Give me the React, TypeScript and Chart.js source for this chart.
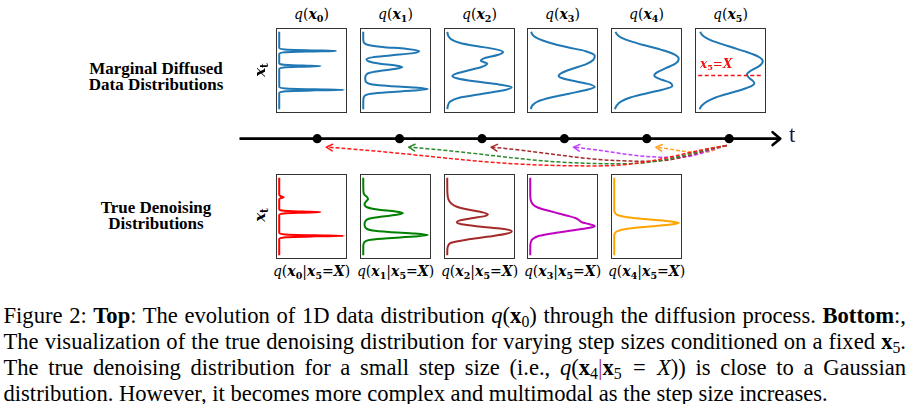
import React, { useEffect, useRef } from "react";
import { Chart, registerables } from "chart.js";

Chart.register(...registerables);

type Pt = [number, number]; // [position along x_t (0 = bottom, 1 = top), density]

// ---------------- data ----------------
const stepIndices = ["0", "1", "2", "3", "4", "5"];
const denoiseIndices = ["0", "1", "2", "3", "4"];

// marginal diffused distributions q(x_t)
const margX0: Pt[] = [
  [0, 0], [0.21, 0], [0.232, 0.1], [0.243, 0.55], [0.25, 1.0], [0.257, 0.55], [0.268, 0.1], [0.29, 0],
  [0.52, 0], [0.54, 0.07], [0.55, 0.36], [0.557, 0.64], [0.564, 0.36], [0.574, 0.07], [0.595, 0],
  [0.715, 0], [0.735, 0.09], [0.746, 0.5], [0.753, 0.88], [0.76, 0.5], [0.771, 0.09], [0.79, 0], [1, 0],
];
const margX1: Pt[] = [
  [0, 0], [0.12, 0.001], [0.17, 0.02], [0.2, 0.12], [0.22, 0.38], [0.24, 0.78], [0.26, 1.0], [0.28, 0.8],
  [0.3, 0.4], [0.32, 0.14], [0.35, 0.045], [0.4, 0.03], [0.434, 0.04], [0.47, 0.1], [0.5, 0.3],
  [0.525, 0.53], [0.544, 0.605], [0.565, 0.5], [0.59, 0.24], [0.62, 0.08], [0.644, 0.05], [0.67, 0.14],
  [0.695, 0.42], [0.725, 0.78], [0.753, 0.866], [0.78, 0.66], [0.805, 0.3], [0.83, 0.08], [0.86, 0.012],
  [0.9, 0.001], [1, 0],
];
const margX2: Pt[] = [
  [0, 0.002], [0.05, 0.012], [0.1, 0.05], [0.15, 0.2], [0.2, 0.55], [0.24, 0.86], [0.282, 1.0], [0.32, 0.8],
  [0.36, 0.42], [0.4, 0.15], [0.43, 0.08], [0.46, 0.14], [0.5, 0.32], [0.545, 0.53], [0.59, 0.62],
  [0.625, 0.52], [0.66, 0.58], [0.7, 0.78], [0.74, 0.866], [0.78, 0.72], [0.82, 0.42], [0.86, 0.19],
  [0.9, 0.07], [0.95, 0.015], [1, 0.002],
];
const margX3: Pt[] = [
  [0, 0.008], [0.05, 0.035], [0.1, 0.12], [0.15, 0.32], [0.2, 0.6], [0.25, 0.88], [0.29, 1.0], [0.33, 0.88],
  [0.37, 0.64], [0.4, 0.5], [0.43, 0.44], [0.47, 0.49], [0.52, 0.64], [0.58, 0.86], [0.64, 0.98],
  [0.69, 1.0], [0.75, 0.86], [0.8, 0.58], [0.86, 0.3], [0.91, 0.13], [0.95, 0.05], [1, 0.012],
];
const margX4: Pt[] = [
  [0, 0.01], [0.05, 0.04], [0.1, 0.11], [0.15, 0.25], [0.2, 0.48], [0.25, 0.74], [0.3, 0.9], [0.34, 0.87],
  [0.38, 0.74], [0.41, 0.65], [0.44, 0.62], [0.48, 0.67], [0.53, 0.8], [0.59, 0.95], [0.65, 1.0],
  [0.71, 0.93], [0.77, 0.72], [0.83, 0.45], [0.88, 0.25], [0.93, 0.1], [0.97, 0.04], [1, 0.02],
];
const margX5: Pt[] = [
  [0, 0.02], [0.05, 0.06], [0.1, 0.14], [0.15, 0.27], [0.2, 0.46], [0.25, 0.67], [0.3, 0.83], [0.335, 0.87],
  [0.37, 0.84], [0.41, 0.78], [0.45, 0.755], [0.5, 0.82], [0.56, 0.95], [0.62, 1.0], [0.68, 0.93],
  [0.74, 0.75], [0.8, 0.52], [0.86, 0.3], [0.91, 0.15], [0.96, 0.06], [1, 0.03],
];

// the fixed observed value x5 = X (position along x_t)
const conditionedX = 0.435;

// true denoising distributions q(x_t | x5 = X)
const denX0: Pt[] = [
  [0, 0], [0.21, 0], [0.232, 0.1], [0.243, 0.55], [0.25, 1.0], [0.257, 0.55], [0.268, 0.1], [0.29, 0],
  [0.52, 0], [0.54, 0.07], [0.55, 0.36], [0.557, 0.64], [0.564, 0.36], [0.574, 0.07], [0.595, 0],
  [0.72, 0], [0.738, 0.025], [0.75, 0.07], [0.762, 0.025], [0.78, 0], [1, 0],
];
const denX1: Pt[] = [
  [0, 0], [0.12, 0.001], [0.17, 0.02], [0.2, 0.12], [0.22, 0.38], [0.24, 0.78], [0.26, 1.0], [0.28, 0.8],
  [0.3, 0.4], [0.32, 0.14], [0.35, 0.04], [0.4, 0.02], [0.434, 0.03], [0.47, 0.09], [0.5, 0.3],
  [0.525, 0.54], [0.544, 0.615], [0.565, 0.5], [0.59, 0.22], [0.62, 0.06], [0.66, 0.02], [0.7, 0.05],
  [0.725, 0.075], [0.75, 0.06], [0.78, 0.02], [0.82, 0.003], [1, 0],
];
const denX2: Pt[] = [
  [0, 0], [0.08, 0.002], [0.12, 0.015], [0.16, 0.06], [0.2, 0.3], [0.24, 0.65], [0.28, 0.93], [0.31, 1.0],
  [0.34, 0.85], [0.37, 0.5], [0.4, 0.22], [0.425, 0.15], [0.45, 0.2], [0.48, 0.4], [0.505, 0.58],
  [0.528, 0.63], [0.555, 0.54], [0.59, 0.32], [0.63, 0.14], [0.67, 0.06], [0.72, 0.02], [0.8, 0.003], [1, 0],
];
const denX3: Pt[] = [
  [0, 0], [0.12, 0.001], [0.17, 0.01], [0.21, 0.04], [0.25, 0.14], [0.29, 0.4], [0.33, 0.72], [0.355, 0.92],
  [0.375, 1.0], [0.4, 0.92], [0.425, 0.8], [0.45, 0.76], [0.48, 0.7], [0.51, 0.58], [0.54, 0.44],
  [0.57, 0.3], [0.6, 0.17], [0.63, 0.08], [0.67, 0.03], [0.72, 0.006], [0.8, 0], [1, 0],
];
const denX4: Pt[] = [
  [0, 0], [0.25, 0], [0.28, 0.01], [0.31, 0.05], [0.34, 0.2], [0.37, 0.55], [0.395, 0.88], [0.415, 1.0],
  [0.435, 0.88], [0.46, 0.55], [0.49, 0.2], [0.52, 0.05], [0.55, 0.01], [0.58, 0], [1, 0],
];

const marginals: Pt[][] = [margX0, margX1, margX2, margX3, margX4, margX5];
const denoisers: Pt[][] = [denX0, denX1, denX2, denX3, denX4];

// timeline: diffusion steps t = 0..5, reverse jumps from step 5 to each earlier step
const timeSteps = [0, 1, 2, 3, 4, 5];
const jumpSource = 5;
const jumpTargets = [0, 1, 2, 3, 4];

// ---------------- styles ----------------
const BLUE = "#1f77b4";
const denoiseColors = ["#ff0000", "#008000", "#a52a2a", "#c000c0", "#ffa500"];
const arrowColors = ["#ff1a1a", "#2a8a2a", "#a52a2a", "#bf40ff", "#ffa020"];
const arrowSagStyle = [32, 29.5, 26.5, 22, 16];

const BOX_X0 = 276;
const BOX_STEP = 83.8;
const BOX_W = 71;
const BOX_H = 85;
const TOP_ROW = 28;
const BOTTOM_ROW = 174;

const TL_LEFT = 225;
const TL_TOP = 117;
const TL_W = 590;
const TL_H = 62;
const TL_UNIT = 83.7;
const TL_T0PX = 314;

const SERIF = '"Liberation Serif", "Times New Roman", serif';
const MATH = '"DejaVu Serif", serif';

const boxLeft = (i: number) => Math.round(BOX_X0 + i * BOX_STEP);

const framePlugin = {
  id: "frame",
  afterDraw(chart: any) {
    const { ctx, chartArea: a } = chart;
    ctx.save();
    ctx.strokeStyle = "#333";
    ctx.lineWidth = 1;
    ctx.strokeRect(a.left + 0.5, a.top + 0.5, a.right - a.left - 1, a.bottom - a.top - 1);
    ctx.restore();
  },
};

const arrowHeadPlugin = {
  id: "arrowHeads",
  afterDatasetsDraw(chart: any) {
    const ctx = chart.ctx;
    chart.data.datasets.forEach((ds: any, i: number) => {
      if (!ds.arrowHead) return;
      const pts = chart.getDatasetMeta(i).data as any[];
      if (pts.length < 2) return;
      const tip = pts[pts.length - 1];
      const prev = pts[pts.length - 2];
      let cx = tip.cp1x;
      let cy = tip.cp1y;
      if (cx === undefined || Math.hypot(tip.x - cx, tip.y - cy) < 0.5) {
        cx = prev.x;
        cy = prev.y;
      }
      const ang = Math.atan2(tip.y - cy, tip.x - cx);
      const { len, spread, width } = ds.arrowHead;
      ctx.save();
      ctx.strokeStyle = ds.borderColor;
      ctx.lineWidth = width;
      ctx.setLineDash([]);
      ctx.lineCap = "round";
      ctx.lineJoin = "round";
      ctx.beginPath();
      ctx.moveTo(tip.x - len * Math.cos(ang - spread), tip.y - len * Math.sin(ang - spread));
      ctx.lineTo(tip.x, tip.y);
      ctx.lineTo(tip.x - len * Math.cos(ang + spread), tip.y - len * Math.sin(ang + spread));
      ctx.stroke();
      ctx.restore();
    });
  },
};

function DensityPanel({
  points,
  color,
  left,
  top,
  marker,
}: {
  points: Pt[];
  color: string;
  left: number;
  top: number;
  marker?: number;
}) {
  const ref = useRef<HTMLCanvasElement>(null);
  useEffect(() => {
    const datasets: any[] = [
      {
        data: points.map(([pos, dens]) => ({ x: dens, y: pos })),
        borderColor: color,
        borderWidth: 2,
        pointRadius: 0,
        fill: false,
        cubicInterpolationMode: "monotone",
      },
    ];
    if (marker !== undefined) {
      datasets.unshift({
        data: [
          { x: 0, y: marker },
          { x: 1, y: marker },
        ],
        borderColor: "#ee1111",
        borderWidth: 1.5,
        borderDash: [4, 2.5],
        pointRadius: 0,
        tension: 0,
        fill: false,
      });
    }
    const chart = new Chart(ref.current as HTMLCanvasElement, {
      type: "line",
      data: { datasets },
      options: {
        indexAxis: "y",
        responsive: false,
        animation: false,
        events: [],
        layout: { padding: 0 },
        plugins: { legend: { display: false }, tooltip: { enabled: false } },
        scales: {
          x: { type: "linear", min: -0.05, max: 1.05, display: false },
          y: { type: "linear", min: -0.05, max: 1.05, display: false },
        },
      } as any,
      plugins: [framePlugin],
    });
    return () => chart.destroy();
  }, []);
  return (
    <canvas
      ref={ref}
      width={BOX_W}
      height={BOX_H}
      style={{ position: "absolute", left, top, width: BOX_W, height: BOX_H }}
    />
  );
}

function Timeline() {
  const ref = useRef<HTMLCanvasElement>(null);
  useEffect(() => {
    const xmin = -(TL_T0PX - TL_LEFT) / TL_UNIT;
    const xmax = xmin + TL_W / TL_UNIT;
    const datasets: any[] = [
      {
        data: timeSteps.map((t) => ({ x: t, y: 0 })),
        showLine: false,
        pointRadius: 4.6,
        pointBackgroundColor: "#000",
        pointBorderWidth: 0,
        borderColor: "#000",
      },
      {
        data: [
          { x: xmin + 0.12, y: 0 },
          { x: jumpSource + 0.62, y: 0 },
        ],
        borderColor: "#000",
        borderWidth: 2.6,
        pointRadius: 0,
        tension: 0,
        arrowHead: { len: 10, spread: 0.7, width: 2.6 },
      },
    ];
    jumpTargets.forEach((target, k) => {
      const span = jumpSource - target;
      datasets.push({
        data: [
          { x: jumpSource - 0.03, y: -8 },
          { x: target + 0.68 * span, y: -arrowSagStyle[k] },
          { x: target + 0.11, y: -10 },
        ],
        borderColor: arrowColors[k],
        borderWidth: 1.5,
        borderDash: [4, 2],
        pointRadius: 0,
        tension: 0.42,
        arrowHead: { len: 7, spread: 0.5, width: 1.5 },
      });
    });
    const chart = new Chart(ref.current as HTMLCanvasElement, {
      type: "line",
      data: { datasets },
      options: {
        responsive: false,
        animation: false,
        events: [],
        layout: { padding: 0 },
        plugins: { legend: { display: false }, tooltip: { enabled: false } },
        scales: {
          x: { type: "linear", min: xmin, max: xmax, display: false },
          y: { type: "linear", min: -42, max: 20, display: false },
        },
      } as any,
      plugins: [arrowHeadPlugin],
    });
    return () => chart.destroy();
  }, []);
  return (
    <canvas
      ref={ref}
      width={TL_W}
      height={TL_H}
      style={{ position: "absolute", left: TL_LEFT, top: TL_TOP, width: TL_W, height: TL_H }}
    />
  );
}

const subStyle: React.CSSProperties = { fontSize: "0.68em", verticalAlign: "-0.28em", lineHeight: 0 };
const capSub: React.CSSProperties = { fontSize: "0.7em", verticalAlign: "-0.25em", lineHeight: 0, fontWeight: "normal" };

function BX({ s }: { s: string }) {
  return (
    <b>
      <i>x</i>
      <sub style={subStyle}>{s}</sub>
    </b>
  );
}

function TopTitle({ s }: { s: string }) {
  return (
    <span>
      <i>q</i>(<BX s={s} />)
    </span>
  );
}

function CondTitle({ s }: { s: string }) {
  return (
    <span>
      <i>q</i>(<BX s={s} />|<BX s="5" />=<b><i>X</i></b>)
    </span>
  );
}

function BoldX({ s }: { s: string }) {
  return (
    <>
      <b>x</b>
      <sub style={capSub}>{s}</sub>
    </>
  );
}

export default function App() {
  const centered = (cx: number, top: number): React.CSSProperties => ({
    position: "absolute",
    left: cx,
    top,
    transform: "translateX(-50%)",
    whiteSpace: "nowrap",
    fontFamily: MATH,
    fontSize: 14,
    lineHeight: "18px",
    color: "#000",
  });
  const justLine: React.CSSProperties = { textAlign: "justify", textAlignLast: "justify" as any };
  return (
    <div
      style={{
        position: "absolute",
        left: 0,
        top: 0,
        width: 910,
        height: 404,
        background: "#fff",
        overflow: "hidden",
      }}
    >
      {/* top row titles and panels */}
      {stepIndices.map((s, i) => (
        <div key={"tt" + s} style={centered(boxLeft(i) + BOX_W / 2, 5)}>
          <TopTitle s={s} />
        </div>
      ))}
      {marginals.map((pts, i) => (
        <DensityPanel
          key={"m" + i}
          points={pts}
          color={BLUE}
          left={boxLeft(i)}
          top={TOP_ROW}
          marker={i === 5 ? conditionedX : undefined}
        />
      ))}
      <div
        style={{
          position: "absolute",
          left: boxLeft(5) + 5,
          top: 57,
          fontFamily: MATH,
          fontSize: 12,
          lineHeight: "14px",
          color: "#ee1111",
          whiteSpace: "nowrap",
        }}
      >
        <BX s="5" />=<b><i>X</i></b>
      </div>

      {/* bottom row panels and labels */}
      {denoisers.map((pts, i) => (
        <DensityPanel key={"d" + i} points={pts} color={denoiseColors[i]} left={boxLeft(i)} top={BOTTOM_ROW} />
      ))}
      {denoiseIndices.map((s, i) => (
        <div key={"bt" + s} style={centered(boxLeft(i) + BOX_W / 2, 262)}>
          <CondTitle s={s} />
        </div>
      ))}

      {/* row titles */}
      <div
        style={{
          position: "absolute",
          left: 56,
          top: 61.4,
          width: 200,
          textAlign: "center",
          fontFamily: SERIF,
          fontWeight: "bold",
          fontSize: 17,
          lineHeight: "15.7px",
        }}
      >
        Marginal Diffused
        <br />
        Data Distributions
      </div>
      <div
        style={{
          position: "absolute",
          left: 56,
          top: 200.4,
          width: 200,
          textAlign: "center",
          fontFamily: SERIF,
          fontWeight: "bold",
          fontSize: 17,
          lineHeight: "15.7px",
        }}
      >
        True Denoising
        <br />
        Distributions
      </div>
      {[70, 215].map((cy) => (
        <div
          key={"xt" + cy}
          style={{
            position: "absolute",
            left: 260,
            top: cy,
            transform: "translate(-50%, -50%) rotate(-90deg)",
            fontFamily: MATH,
            fontSize: 15,
            lineHeight: "16px",
            whiteSpace: "nowrap",
          }}
        >
          <BX s="t" />
        </div>
      ))}

      {/* timeline */}
      <Timeline />
      <div
        style={{
          position: "absolute",
          left: 789,
          top: 122,
          fontFamily: SERIF,
          fontSize: 23,
          lineHeight: "26px",
          color: "#0d1b45",
        }}
      >
        t
      </div>

      {/* caption */}
      <div
        style={{
          position: "absolute",
          left: 3.5,
          top: 302.5,
          width: 902.5,
          fontFamily: SERIF,
          fontSize: 22.6,
          lineHeight: "26px",
          color: "#000",
        }}
      >
        <div style={justLine}>
          Figure 2: <b>Top</b>: The evolution of 1D data distribution <i>q</i>(<BoldX s="0" />) through the
          diffusion process. <b>Bottom</b>:,
        </div>
        <div style={justLine}>
          The visualization of the true denoising distribution for varying step sizes conditioned on a fixed{" "}
          <BoldX s="5" />.
        </div>
        <div style={justLine}>
          The true denoising distribution for a small step size (i.e., <i>q</i>(<BoldX s="4" />
          <span style={{ color: "#9b2d6f" }}>|</span>
          <BoldX s="5" />
          {"\u2002=\u2002"}
          <i>X</i>)) is close to a Gaussian
        </div>
        <div style={{ textAlign: "left" }}>
          distribution. However, it becomes more complex and multimodal as the step size increases.
        </div>
      </div>
    </div>
  );
}
